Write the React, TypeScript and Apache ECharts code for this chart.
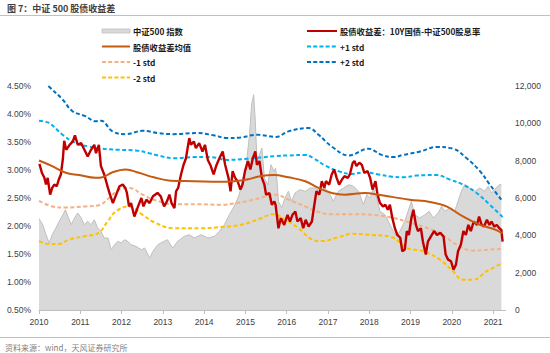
import React, { useEffect, useRef } from 'react';
import * as echarts from 'echarts';

// ---- Data ----
const yearTicks = [2010, 2011, 2012, 2013, 2014, 2015, 2016, 2017, 2018, 2019, 2020, 2021];

// 股债收益差 (%)
const spreadData: [number, number][] = [
  [2010.01, 3.11], [2010.07, 2.95], [2010.13, 2.86], [2010.17, 2.74], [2010.21, 2.86], [2010.27, 2.56], [2010.32, 2.68],
  [2010.37, 2.74], [2010.43, 2.71], [2010.48, 2.83], [2010.53, 2.92], [2010.58, 3.21], [2010.61, 3.52], [2010.66, 3.36],
  [2010.74, 3.45], [2010.82, 3.51], [2010.87, 3.62], [2010.94, 3.45], [2011.02, 3.48], [2011.10, 3.36], [2011.18, 3.24],
  [2011.26, 3.36], [2011.34, 3.45], [2011.38, 3.30], [2011.45, 3.45], [2011.50, 3.07], [2011.58, 2.92], [2011.67, 2.68],
  [2011.72, 2.56], [2011.79, 2.41], [2011.87, 2.56], [2011.95, 2.71], [2012.03, 2.74], [2012.09, 2.68], [2012.13, 2.59],
  [2012.18, 2.35], [2012.23, 2.41], [2012.31, 2.17], [2012.40, 2.35], [2012.48, 2.50], [2012.53, 2.35], [2012.60, 2.47],
  [2012.68, 2.41], [2012.76, 2.53], [2012.87, 2.59], [2012.95, 2.53], [2013.03, 2.35], [2013.10, 2.44], [2013.16, 2.56],
  [2013.21, 2.41], [2013.28, 2.32], [2013.32, 2.62], [2013.37, 2.68], [2013.44, 2.92], [2013.50, 3.09], [2013.56, 3.21],
  [2013.64, 3.57], [2013.68, 3.45], [2013.75, 3.51], [2013.80, 3.39], [2013.88, 3.48], [2013.96, 3.33], [2014.02, 3.45],
  [2014.09, 3.18], [2014.15, 3.09], [2014.23, 2.92], [2014.29, 3.07], [2014.37, 3.21], [2014.45, 3.33], [2014.51, 3.09],
  [2014.59, 2.86], [2014.64, 2.62], [2014.69, 2.98], [2014.75, 2.86], [2014.81, 2.80], [2014.88, 2.65], [2014.93, 2.74],
  [2014.99, 2.98], [2015.06, 3.16], [2015.12, 3.01], [2015.18, 3.21], [2015.24, 3.33], [2015.28, 3.09], [2015.34, 3.16],
  [2015.40, 2.86], [2015.46, 2.74], [2015.50, 2.56], [2015.58, 2.59], [2015.64, 2.38], [2015.70, 2.44], [2015.73, 2.38],
  [2015.75, 2.26], [2015.80, 1.96], [2015.86, 2.14], [2015.94, 2.02], [2016.02, 2.20], [2016.08, 2.08], [2016.14, 2.20],
  [2016.21, 2.26], [2016.26, 2.08], [2016.34, 2.14], [2016.40, 1.96], [2016.46, 2.11], [2016.53, 1.99], [2016.61, 2.08],
  [2016.67, 2.38], [2016.72, 2.62], [2016.79, 2.56], [2016.85, 2.80], [2016.91, 2.68], [2016.95, 2.80], [2017.03, 2.74],
  [2017.09, 2.92], [2017.15, 3.01], [2017.21, 2.86], [2017.27, 2.74], [2017.34, 2.83], [2017.40, 2.89], [2017.48, 2.86],
  [2017.53, 2.92], [2017.60, 3.13], [2017.64, 3.16], [2017.69, 3.07], [2017.76, 3.13], [2017.82, 3.09], [2017.88, 2.95],
  [2017.96, 2.98], [2018.02, 2.86], [2018.08, 2.65], [2018.15, 2.80], [2018.20, 2.56], [2018.26, 2.41], [2018.33, 2.35],
  [2018.39, 2.38], [2018.45, 2.29], [2018.50, 2.38], [2018.56, 2.14], [2018.62, 1.96], [2018.68, 1.84], [2018.75, 1.79],
  [2018.80, 1.55], [2018.86, 1.58], [2018.91, 1.91], [2018.96, 1.84], [2019.02, 2.14], [2019.07, 2.29], [2019.13, 2.02],
  [2019.18, 1.91], [2019.25, 1.96], [2019.30, 1.72], [2019.37, 1.49], [2019.42, 1.72], [2019.49, 1.81], [2019.57, 1.91],
  [2019.64, 1.84], [2019.72, 1.88], [2019.80, 1.81], [2019.85, 1.49], [2019.91, 1.40], [2019.98, 1.37], [2020.04, 1.22],
  [2020.10, 1.31], [2020.15, 1.55], [2020.22, 1.67], [2020.28, 1.91], [2020.34, 1.84], [2020.40, 2.02], [2020.46, 1.91],
  [2020.53, 2.08], [2020.61, 2.02], [2020.66, 2.17], [2020.72, 2.02], [2020.78, 1.99], [2020.85, 2.11], [2020.91, 2.02],
  [2020.96, 2.08], [2021.03, 1.99], [2021.09, 2.02], [2021.15, 1.96], [2021.20, 1.93], [2021.23, 1.72],
];

// 中证500 指数 (right axis)
const indexData: [number, number][] = [
  [2010.00, 4900], [2010.09, 4570], [2010.17, 4034], [2010.25, 3590], [2010.32, 4034], [2010.41, 4393], [2010.49, 4752],
  [2010.58, 5105], [2010.64, 5373], [2010.70, 5020], [2010.78, 4570], [2010.86, 4929], [2010.94, 5196], [2011.02, 4929],
  [2011.10, 4570], [2011.18, 4752], [2011.26, 4570], [2011.34, 4837], [2011.42, 4393], [2011.50, 4216], [2011.58, 3857],
  [2011.67, 3857], [2011.75, 3230], [2011.83, 3498], [2011.91, 3680], [2011.99, 3589], [2012.07, 3766], [2012.15, 3680],
  [2012.23, 3498], [2012.35, 3412], [2012.48, 3230], [2012.56, 3321], [2012.68, 2786], [2012.76, 3145], [2012.88, 3498],
  [2012.95, 3589], [2013.11, 3766], [2013.24, 3321], [2013.36, 3680], [2013.52, 3948], [2013.64, 4034], [2013.76, 3857],
  [2013.92, 4034], [2014.09, 3857], [2014.25, 3948], [2014.37, 4216], [2014.49, 4570], [2014.61, 5105], [2014.73, 5555],
  [2014.85, 6177], [2014.93, 6894], [2015.02, 7784], [2015.10, 9391], [2015.15, 10998], [2015.20, 11534], [2015.24, 10109],
  [2015.28, 7966], [2015.34, 8319], [2015.40, 8678], [2015.46, 7071], [2015.54, 6712], [2015.62, 7784], [2015.69, 7430],
  [2015.73, 7600], [2015.76, 7071], [2015.80, 5823], [2015.88, 5464], [2015.96, 6000], [2016.04, 6359], [2016.12, 5823],
  [2016.20, 6268], [2016.32, 6445], [2016.45, 6359], [2016.57, 6536], [2016.69, 6536], [2016.81, 6359], [2016.93, 6536],
  [2017.05, 6177], [2017.13, 5823], [2017.25, 6359], [2017.38, 6536], [2017.50, 6712], [2017.62, 6627], [2017.74, 6359],
  [2017.86, 5641], [2017.94, 6177], [2018.02, 6000], [2018.10, 6536], [2018.18, 6000], [2018.26, 5287], [2018.38, 5105],
  [2018.50, 4570], [2018.58, 4216], [2018.66, 3948], [2018.74, 4216], [2018.86, 4752], [2018.94, 5287], [2019.02, 5823],
  [2019.10, 5105], [2019.22, 4929], [2019.35, 5105], [2019.45, 5287], [2019.55, 4929], [2019.67, 5196], [2019.75, 5555],
  [2019.83, 5287], [2019.95, 5464], [2020.07, 5287], [2020.15, 5823], [2020.23, 6359], [2020.31, 6712], [2020.43, 6536],
  [2020.56, 6359], [2020.68, 6536], [2020.80, 6359], [2020.88, 6627], [2020.96, 6268], [2021.07, 6536], [2021.15, 6712],
  [2021.20, 6712],
];

// 股债收益差均值 (%)
const meanData: [number, number][] = [
  [2010.00, 3.17], [2010.32, 3.07], [2010.65, 2.95], [2010.97, 2.91], [2011.37, 2.86], [2011.54, 2.87], [2011.78, 2.96],
  [2012.10, 3.01], [2012.42, 2.95], [2012.78, 2.87], [2013.18, 2.81], [2013.75, 2.80], [2014.40, 2.79], [2014.72, 2.80],
  [2015.04, 2.83], [2015.36, 2.89], [2015.69, 2.91], [2016.04, 2.87], [2016.45, 2.80], [2016.77, 2.68], [2017.09, 2.59],
  [2017.41, 2.56], [2017.90, 2.59], [2018.22, 2.56], [2018.55, 2.52], [2018.98, 2.47], [2019.47, 2.43], [2019.87, 2.35],
  [2020.27, 2.17], [2020.68, 2.02], [2021.00, 1.95], [2021.23, 1.87],
];

// +1 std (%)
const plus1Data: [number, number][] = [
  [2010.00, 3.88], [2010.24, 3.84], [2010.57, 3.63], [2010.89, 3.48], [2011.21, 3.42], [2011.54, 3.38], [2011.94, 3.36],
  [2012.34, 3.35], [2012.67, 3.30], [2012.88, 3.26], [2013.26, 3.21], [2013.75, 3.23], [2014.15, 3.23], [2014.56, 3.18],
  [2015.04, 3.20], [2015.74, 3.25], [2016.04, 3.26], [2016.45, 3.27], [2016.65, 3.21], [2016.93, 3.08], [2017.25, 2.98],
  [2017.58, 2.93], [2017.90, 2.96], [2018.22, 2.92], [2018.55, 2.88], [2018.82, 2.87], [2019.14, 2.90], [2019.63, 2.91],
  [2019.95, 2.83], [2020.27, 2.74], [2020.60, 2.59], [2020.92, 2.38], [2021.23, 2.16],
];

// +2 std (%)
const plus2Data: [number, number][] = [
  [2010.00, 4.66], [2010.24, 4.49], [2010.57, 4.26], [2010.81, 4.05], [2011.13, 3.96], [2011.37, 3.87], [2011.50, 3.88],
  [2011.78, 3.69], [2012.10, 3.64], [2012.51, 3.70], [2012.88, 3.66], [2013.26, 3.64], [2013.83, 3.66], [2014.23, 3.62],
  [2014.56, 3.57], [2014.88, 3.58], [2015.28, 3.63], [2015.74, 3.59], [2016.04, 3.69], [2016.53, 3.75], [2016.77, 3.63],
  [2017.09, 3.42], [2017.50, 3.26], [2017.98, 3.38], [2018.30, 3.27], [2018.59, 3.23], [2018.82, 3.27], [2019.23, 3.33],
  [2019.63, 3.41], [2020.03, 3.38], [2020.36, 3.21], [2020.68, 2.98], [2020.92, 2.74], [2021.23, 2.44],
];

// -1 std (%)
const minus1Data: [number, number][] = [
  [2010.00, 2.45], [2010.32, 2.35], [2010.65, 2.33], [2011.13, 2.35], [2011.45, 2.37], [2011.70, 2.50], [2011.94, 2.65],
  [2012.18, 2.68], [2012.51, 2.56], [2012.78, 2.47], [2013.26, 2.39], [2013.83, 2.39], [2014.40, 2.38], [2014.80, 2.41],
  [2015.20, 2.47], [2015.74, 2.56], [2016.04, 2.47], [2016.45, 2.35], [2016.77, 2.25], [2017.09, 2.21], [2017.58, 2.21],
  [2018.06, 2.20], [2018.55, 2.15], [2018.90, 2.08], [2019.30, 1.99], [2019.71, 1.87], [2020.11, 1.67], [2020.52, 1.56],
  [2020.92, 1.58], [2021.23, 1.59],
];

// -2 std (%)
const minus2Data: [number, number][] = [
  [2010.00, 1.73], [2010.24, 1.68], [2010.48, 1.68], [2010.73, 1.76], [2011.13, 1.82], [2011.45, 1.88], [2011.66, 2.08],
  [2011.86, 2.26], [2012.18, 2.35], [2012.51, 2.20], [2012.78, 2.07], [2013.26, 1.96], [2013.91, 1.96], [2014.40, 1.98],
  [2014.88, 2.02], [2015.28, 2.11], [2015.69, 2.21], [2015.96, 2.11], [2016.29, 1.96], [2016.61, 1.76], [2016.85, 1.73],
  [2017.25, 1.80], [2017.58, 1.86], [2018.06, 1.84], [2018.55, 1.80], [2018.90, 1.61], [2019.30, 1.55], [2019.71, 1.40],
  [2020.03, 1.19], [2020.27, 1.04], [2020.52, 1.04], [2020.84, 1.19], [2021.23, 1.34],
];

const seriesNames = {
  index: '中证500 指数',
  spread: '股债收益差：10Y国债-中证500股息率',
  mean: '股债收益差均值',
  plus1: '+1 std',
  plus2: '+2 std',
  minus1: '-1 std',
  minus2: '-2 std',
};

const titleText = '图 7：中证 500 股债收益差';
const sourceText = '资料来源：wind，天风证券研究所';

const COLORS = {
  indexFill: '#d9d9d9',
  indexLine: '#bfbfbf',
  spread: '#c00000',
  mean: '#c55a11',
  plus1: '#00b0f0',
  plus2: '#0070c0',
  minus1: '#f4b183',
  minus2: '#ffc000',
};

const CJK = '"Noto Sans CJK SC", "Noto Sans", sans-serif';
const NUM = '"Liberation Sans", Arial, sans-serif';
const DASH = [4, 2.5];

export default function App() {
  const ref = useRef<HTMLDivElement>(null);

  useEffect(() => {
    if (!ref.current) return;
    const chart = echarts.init(ref.current, undefined, { renderer: 'svg' });

    const lineSeries = (name: string, data: [number, number][], color: string, width: number, dashed: boolean, smooth: boolean | number) => ({
      type: 'line',
      name,
      data,
      yAxisIndex: 0,
      symbol: 'none',
      smooth,
      clip: true,
      lineStyle: { color, width, type: dashed ? DASH : 'solid' },
      emphasis: { disabled: true },
    });

    // legend layout (graphic)
    const legendLeft = [
      { name: seriesNames.index, kind: 'area', color: COLORS.indexFill },
      { name: seriesNames.mean, kind: 'solid', color: COLORS.mean },
      { name: seriesNames.minus1, kind: 'dash', color: COLORS.minus1 },
      { name: seriesNames.minus2, kind: 'dash', color: COLORS.minus2 },
    ];
    const legendRight = [
      { name: seriesNames.spread, kind: 'solid', color: COLORS.spread },
      { name: seriesNames.plus1, kind: 'dash', color: COLORS.plus1 },
      { name: seriesNames.plus2, kind: 'dash', color: COLORS.plus2 },
    ];
    const rowsY = [31, 46.5, 62, 77.5];
    const legendGraphics: any[] = [];
    const addCol = (items: any[], symX: number, symW: number, textX: number) => {
      items.forEach((it, i) => {
        const y = rowsY[i];
        if (it.kind === 'area') {
          legendGraphics.push({
            type: 'rect',
            shape: { x: symX, y: y - 2, width: symW, height: 4 },
            style: { fill: COLORS.indexFill, stroke: COLORS.indexLine, lineWidth: 0.8 },
          });
        } else {
          legendGraphics.push({
            type: 'line',
            shape: { x1: symX, y1: y, x2: symX + symW, y2: y },
            style: { stroke: it.color, lineWidth: it.kind === 'solid' ? 2 : 1.8, lineDash: it.kind === 'dash' ? [4, 2.2] : null },
          });
        }
        legendGraphics.push({
          type: 'text',
          x: textX,
          y,
          style: {
            text: it.name,
            fill: '#1a1a1a',
            fontSize: 8.3,
            fontWeight: 'bold',
            fontFamily: CJK,
            verticalAlign: 'middle',
            align: 'left',
          },
        });
      });
    };
    addCol(legendLeft, 102, 28, 133);
    addCol(legendRight, 307, 30, 340);

    const option: any = {
      animation: false,
      backgroundColor: '#ffffff',
      grid: { left: 39, right: 44.5, top: 86, bottom: 43 },
      xAxis: {
        type: 'value',
        min: 2010,
        max: 2021.3,
        splitLine: { show: false },
        axisLine: { show: true, lineStyle: { color: '#bfbfbf', width: 1 } },
        axisTick: { show: true, customValues: yearTicks, length: 4, lineStyle: { color: '#bfbfbf' } },
        axisLabel: {
          customValues: yearTicks,
          formatter: (v: number) => String(Math.round(v)),
          color: '#404040',
          fontSize: 8.5,
          fontFamily: NUM,
          margin: 7,
        },
      },
      yAxis: [
        {
          type: 'value',
          position: 'left',
          min: 0.5,
          max: 4.5,
          interval: 0.5,
          splitLine: { show: false },
          axisLine: { show: false },
          axisTick: { show: false },
          axisLabel: {
            formatter: (v: number) => v.toFixed(2) + '%',
            color: '#404040',
            fontSize: 8.5,
            fontFamily: NUM,
            margin: 8,
          },
        },
        {
          type: 'value',
          position: 'right',
          min: 0,
          max: 12000,
          interval: 2000,
          splitLine: { show: false },
          axisLine: { show: false },
          axisTick: { show: false },
          axisLabel: {
            formatter: (v: number) => v.toLocaleString('en-US'),
            color: '#404040',
            fontSize: 8.5,
            fontFamily: NUM,
            margin: 9.5,
          },
        },
      ],
      series: [
        {
          type: 'line',
          name: seriesNames.index,
          data: indexData,
          yAxisIndex: 1,
          symbol: 'none',
          lineStyle: { color: COLORS.indexLine, width: 1 },
          areaStyle: { color: COLORS.indexFill, opacity: 1 },
          emphasis: { disabled: true },
        },
        lineSeries(seriesNames.plus2, plus2Data, COLORS.plus2, 2, true, 0.4),
        lineSeries(seriesNames.plus1, plus1Data, COLORS.plus1, 2, true, 0.4),
        lineSeries(seriesNames.minus1, minus1Data, COLORS.minus1, 2, true, 0.4),
        lineSeries(seriesNames.minus2, minus2Data, COLORS.minus2, 2, true, 0.4),
        lineSeries(seriesNames.spread, spreadData, COLORS.spread, 2.4, false, false),
        lineSeries(seriesNames.mean, meanData, COLORS.mean, 2, false, 0.4),
      ],
      graphic: [
        {
          type: 'text',
          x: 7,
          y: 8,
          style: {
            text: titleText,
            fill: '#404040',
            fontSize: 9,
            fontWeight: 'bold',
            fontFamily: CJK,
            verticalAlign: 'middle',
          },
        },
        {
          type: 'line',
          shape: { x1: 0, y1: 15.5, x2: 550, y2: 15.5 },
          style: { stroke: '#f4b183', lineWidth: 1 },
        },
        {
          type: 'line',
          shape: { x1: 0, y1: 337.5, x2: 550, y2: 337.5 },
          style: { stroke: '#f4b183', lineWidth: 1 },
        },
        {
          type: 'text',
          x: 5,
          y: 347,
          style: {
            text: sourceText,
            fill: '#7f7f7f',
            fontSize: 8,
            fontFamily: CJK,
            verticalAlign: 'middle',
          },
        },
        ...legendGraphics,
      ],
    };

    chart.setOption(option);
    return () => chart.dispose();
  }, []);

  return (
    <div
      ref={ref}
      style={{ position: 'fixed', left: 0, top: 0, width: 550, height: 353, background: '#fff' }}
    />
  );
}
